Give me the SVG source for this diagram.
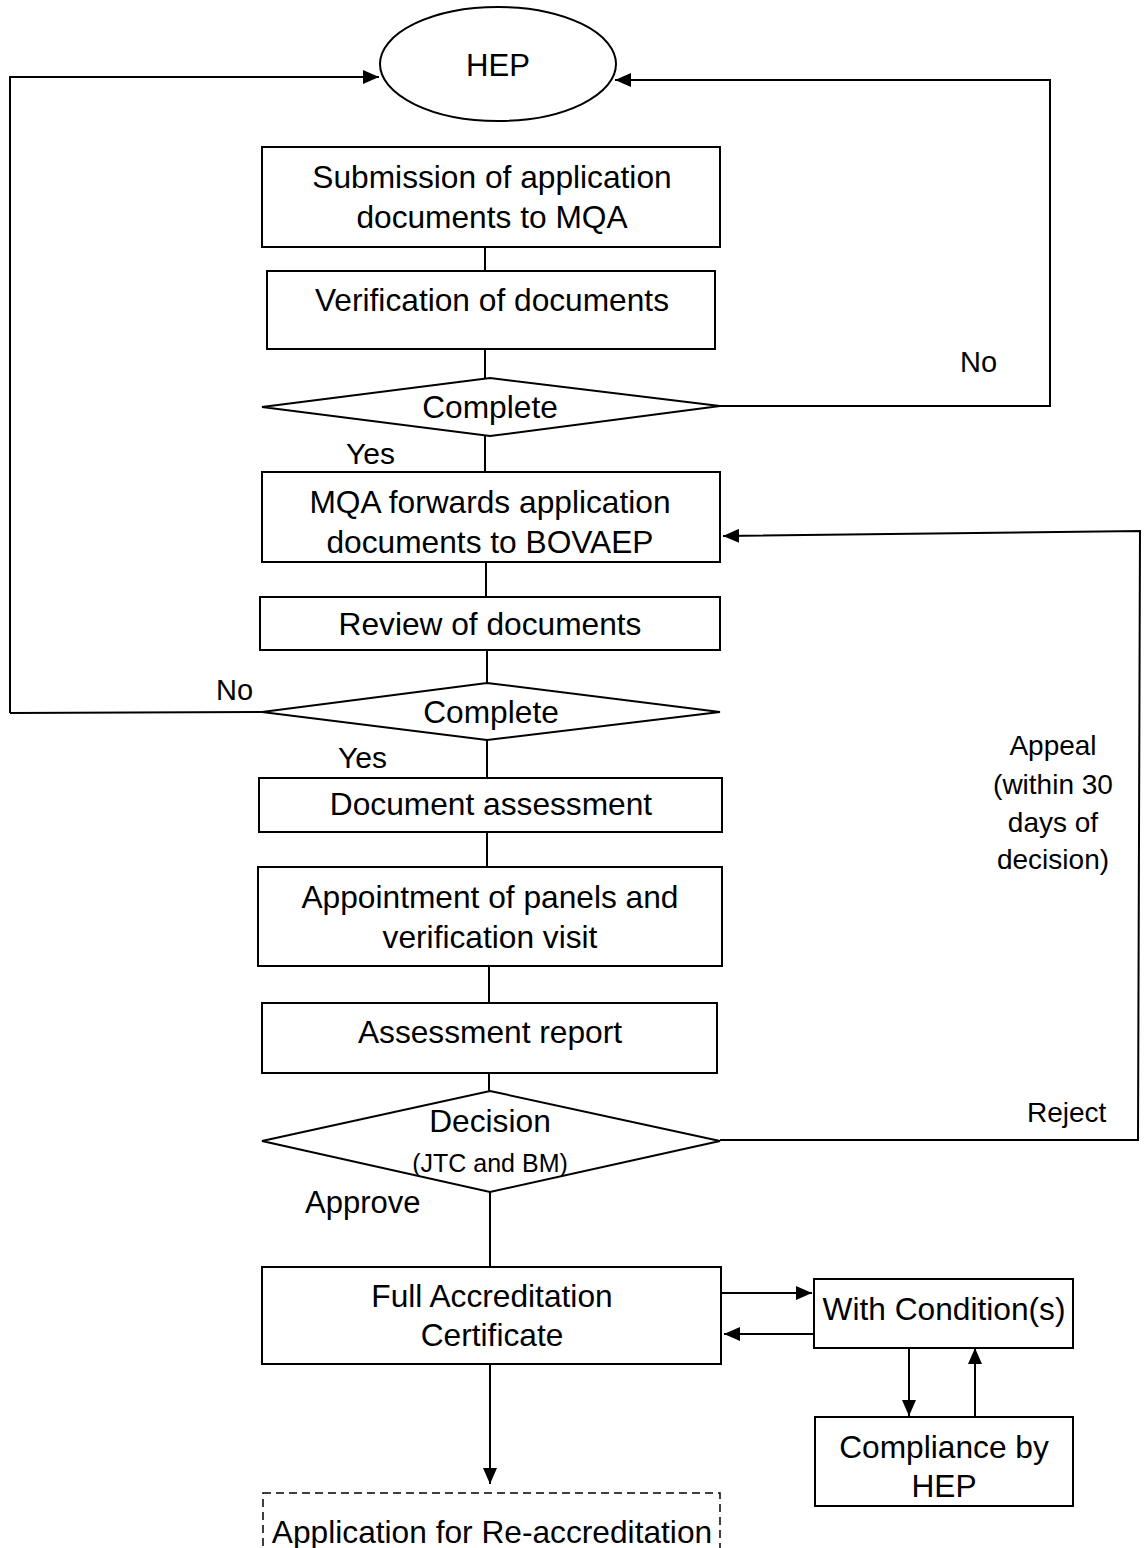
<svg xmlns="http://www.w3.org/2000/svg" width="1144" height="1548" viewBox="0 0 1144 1548">
<defs>
<style>
.box{fill:#fff;stroke:#000;stroke-width:2}
.ln{fill:none;stroke:#000;stroke-width:2}
.t{font-family:"Liberation Sans",Arial,sans-serif;font-size:31.7px;fill:#000;text-anchor:middle}
.lbl{font-family:"Liberation Sans",Arial,sans-serif;fill:#000}
</style>
<marker id="arr" viewBox="0 0 16 14" refX="16" refY="7" markerWidth="16" markerHeight="14" markerUnits="userSpaceOnUse" orient="auto">
<path d="M0,0 L16,7 L0,14 z" fill="#000"/>
</marker>
</defs>
<rect width="1144" height="1548" fill="#fff"/>

<g id="connectors">
<path class="ln" d="M10,713 L10,77 L379,77" marker-end="url(#arr)"/>
<path class="ln" d="M720,406 L1050,406 L1050,80 L615,80" marker-end="url(#arr)"/>
<path class="ln" d="M720,1140 L1138,1140 L1140,531 L723,536" marker-end="url(#arr)"/>
<path class="ln" d="M262,712 L10,713"/>
<line class="ln" x1="485" y1="247" x2="485" y2="271"/>
<line class="ln" x1="485" y1="349" x2="485" y2="378"/>
<line class="ln" x1="485" y1="436" x2="485" y2="472"/>
<line class="ln" x1="486" y1="562" x2="486" y2="597"/>
<line class="ln" x1="487" y1="650" x2="487" y2="683"/>
<line class="ln" x1="487" y1="740" x2="487" y2="778"/>
<line class="ln" x1="487" y1="832" x2="487" y2="867"/>
<line class="ln" x1="489" y1="966" x2="489" y2="1003"/>
<line class="ln" x1="489" y1="1073" x2="489" y2="1091"/>
<line class="ln" x1="490" y1="1192" x2="490" y2="1267"/>
<path class="ln" d="M490,1364 L490,1484" marker-end="url(#arr)"/>
<path class="ln" d="M721,1293 L812,1293" marker-end="url(#arr)"/>
<path class="ln" d="M816,1334 L724,1334" marker-end="url(#arr)"/>
<path class="ln" d="M909,1348 L909,1416" marker-end="url(#arr)"/>
<path class="ln" d="M975,1417 L975,1348" marker-end="url(#arr)"/>
</g>

<g id="labels">
<text class="lbl" x="960" y="372" font-size="29">No</text>
<text class="lbl" x="346" y="464" font-size="30">Yes</text>
<text class="lbl" x="216" y="700" font-size="29">No</text>
<text class="lbl" x="338" y="768" font-size="30">Yes</text>
<text class="lbl" x="305" y="1213" font-size="31">Approve</text>
<text class="lbl" x="1027" y="1122" font-size="28">Reject</text>
<g class="lbl" font-size="28" text-anchor="middle">
<text x="1053" y="755">Appeal</text>
<text x="1053" y="794">(within 30</text>
<text x="1053" y="832">days of</text>
<text x="1053" y="869">decision)</text>
</g>
</g>

<g id="hep">
<ellipse class="box" cx="498" cy="64" rx="118" ry="57"/>
<text class="lbl" x="466" y="76" font-size="32" textLength="64" lengthAdjust="spacingAndGlyphs">HEP</text>
</g>

<g id="submission">
<rect class="box" x="262" y="147" width="458" height="100"/>
<text class="t" x="492" y="188">Submission of application</text>
<text class="t" x="492" y="228">documents to MQA</text>
</g>

<g id="verification">
<rect class="box" x="267" y="271" width="448" height="78"/>
<text class="t" x="492" y="311">Verification of documents</text>
</g>

<g id="complete1">
<polygon class="box" points="490,378 720,406 490,436 262,407"/>
<text class="t" x="490" y="418">Complete</text>
</g>

<g id="forwards">
<rect class="box" x="262" y="472" width="458" height="90"/>
<text class="t" x="490" y="513">MQA forwards application</text>
<text class="t" x="490" y="553">documents to BOVAEP</text>
</g>

<g id="review">
<rect class="box" x="260" y="597" width="460" height="53"/>
<text class="t" x="490" y="635">Review of documents</text>
</g>

<g id="complete2">
<polygon class="box" points="487,683 720,712 487,740 262,712"/>
<text class="t" x="491" y="723">Complete</text>
</g>

<g id="docassess">
<rect class="box" x="259" y="778" width="463" height="54"/>
<text class="t" x="491" y="815">Document assessment</text>
</g>

<g id="appointment">
<rect class="box" x="258" y="867" width="464" height="99"/>
<text class="t" x="490" y="908">Appointment of panels and</text>
<text class="t" x="490" y="948">verification visit</text>
</g>

<g id="report">
<rect class="box" x="262" y="1003" width="455" height="70"/>
<text class="t" x="490" y="1043">Assessment report</text>
</g>

<g id="decision">
<polygon class="box" points="490,1091 720,1141 490,1192 262,1141"/>
<text class="t" x="490" y="1132">Decision</text>
<text class="lbl" x="490" y="1172" font-size="25" text-anchor="middle">(JTC and BM)</text>
</g>

<g id="fullcert">
<rect class="box" x="262" y="1267" width="459" height="97"/>
<text class="t" x="492" y="1307">Full Accreditation</text>
<text class="t" x="492" y="1346">Certificate</text>
</g>

<g id="condition">
<rect class="box" x="814" y="1279" width="259" height="69"/>
<text class="t" x="944" y="1320">With Condition(s)</text>
</g>

<g id="compliance">
<rect class="box" x="815" y="1417" width="258" height="89"/>
<text class="t" x="944" y="1458">Compliance by</text>
<text class="t" x="944" y="1497">HEP</text>
</g>

<g id="reaccreditation">
<rect x="263" y="1493" width="457" height="70" fill="#fff" stroke="#000" stroke-width="1.5" stroke-dasharray="8,5"/>
<text class="t" x="492" y="1543">Application for Re-accreditation</text>
</g>
</svg>
